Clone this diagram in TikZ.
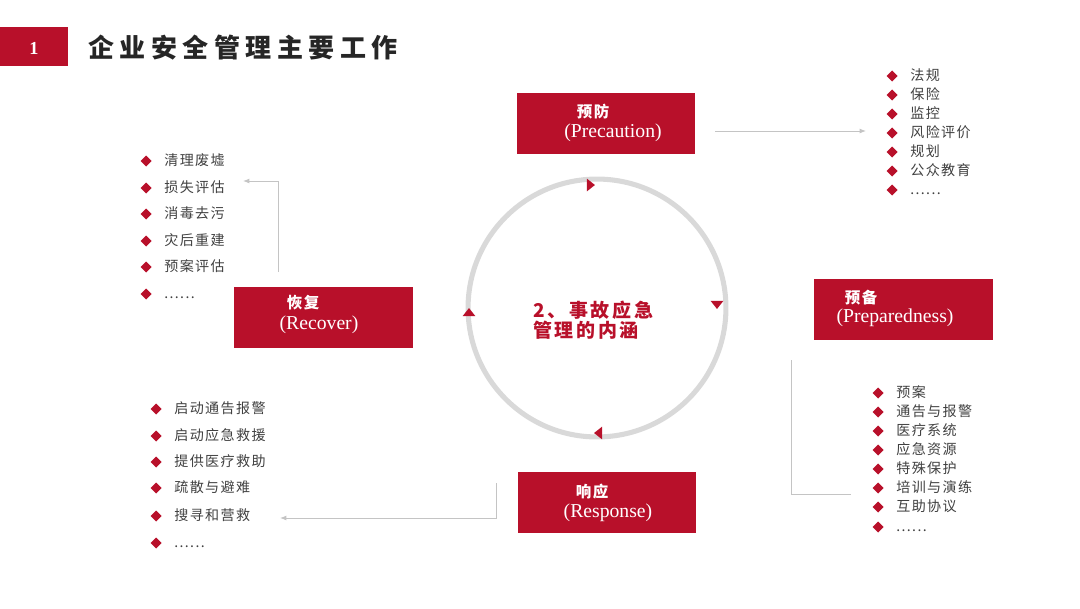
\documentclass[tikz,border=0pt]{standalone}
\usepackage{fontspec}
\setmainfont{Liberation Serif}
\newfontfamily\cjk[LetterSpace=10]{Noto Sans CJK SC}
\newfontfamily\cjkcore[LetterSpace=14]{Noto Sans CJK SC}
\newfontfamily\cjkhead[LetterSpace=21]{Noto Sans CJK SC}
\usetikzlibrary{shapes.geometric, arrows.meta}

\definecolor{brickred}{HTML}{B8102A}
\definecolor{textgray}{HTML}{404040}
\definecolor{ringgray}{HTML}{D9D9D9}
\definecolor{linegray}{HTML}{C4C4C4}

\tikzset{
  stagebox/.style={rectangle, fill=brickred, minimum width=126.6pt, minimum height=43.4pt, inner sep=0pt},
  stagecn/.style={text=white, font=\cjk\bfseries\fontsize{11}{13}\selectfont, inner sep=0pt},
  stageen/.style={text=white, font=\fontsize{14}{16}\selectfont, inner sep=0pt},
  bulletmark/.style={diamond, fill=brickred, inner sep=0pt, minimum size=8pt, xshift=-8.5pt},
  listitem/.style={anchor=west, inner sep=0pt, text=textgray, text height=8.5pt, text depth=1.5pt,
    font=\cjk\fontsize{10}{12}\selectfont, label={[bulletmark]left:{}}},
  turn/.style={isosceles triangle, isosceles triangle stretches, fill=brickred, inner sep=0pt,
    minimum width=9pt, minimum height=5.7pt},
  link/.style={draw=linegray, line width=0.7pt},
  tip/.style={-{Latex[length=4.5pt, width=3.5pt]}}
}

\begin{document}
\begin{tikzpicture}[x=0.025cm, y=-0.025cm]
\useasboundingbox (0,0) rectangle (1080,608);

% Heading
\node[rectangle, fill=brickred, minimum width=48.4pt, minimum height=27.7pt, inner sep=0pt] (num) at (34,46.5) {};
\node[text=white, font=\bfseries\fontsize{13}{15}\selectfont] (numtext) at (34,48) {1};
\node[anchor=west, inner sep=0pt, text=black!85, font=\cjkhead\bfseries\fontsize{18.5}{22}\selectfont] (title) at (88,48) {企业安全管理主要工作};

% Cycle
\node[circle, draw=ringgray, line width=3.6pt, minimum size=183.4pt, inner sep=0pt] (ring) at (597,308) {};
\node[turn] (t1) at (590,185) {};
\node[turn, rotate=-90] (t2) at (717,304) {};
\node[turn, rotate=180] (t3) at (599,433) {};
\node[turn, rotate=90] (t4) at (469,313) {};

\node[anchor=west, inner sep=0pt, text=brickred, font=\cjkcore\bfseries\fontsize{13.5}{16}\selectfont] (core1) at (533,310) {2、事故应急};
\node[anchor=west, inner sep=0pt, text=brickred, font=\cjkcore\bfseries\fontsize{13.5}{16}\selectfont] (core2) at (533,330) {管理的内涵};

% Stages
\node[stagebox] (pre) at (606,123.5) {};
\node[stagecn] (precn) at (593,112) {预防};
\node[stageen] (preen) at (613,133) {(Precaution)};

\node[stagebox] (prep) at (903.5,309.5) {};
\node[stagecn] (prepcn) at (861,298) {预备};
\node[stageen] (prepen) at (895,318) {(Preparedness)};

\node[stagebox] (resp) at (607,502.5) {};
\node[stagecn] (respcn) at (592,492) {响应};
\node[stageen] (respen) at (608,513) {(Response)};

\node[stagebox] (rec) at (323.5,317.5) {};
\node[stagecn] (reccn) at (303,303) {恢复};
\node[stageen] (recen) at (319,325) {(Recover)};

% Lists
\node[listitem] (pa1) at (910,76) {法规};
\node[listitem] (pa2) at (910,95) {保险};
\node[listitem] (pa3) at (910,114) {监控};
\node[listitem] (pa4) at (910,133) {风险评价};
\node[listitem] (pa5) at (910,152) {规划};
\node[listitem] (pa6) at (910,171) {公众教育};
\node[listitem] (pa7) at (910,190) {......};

\node[listitem] (pb1) at (896,393) {预案};
\node[listitem] (pb2) at (896,412) {通告与报警};
\node[listitem] (pb3) at (896,431) {医疗系统};
\node[listitem] (pb4) at (896,450) {应急资源};
\node[listitem] (pb5) at (896,469) {特殊保护};
\node[listitem] (pb6) at (896,488) {培训与演练};
\node[listitem] (pb7) at (896,507) {互助协议};
\node[listitem] (pb8) at (896,527) {......};

\node[listitem] (rs1) at (174,409) {启动通告报警};
\node[listitem] (rs2) at (174,436) {启动应急救援};
\node[listitem] (rs3) at (174,462) {提供医疗救助};
\node[listitem] (rs4) at (174,488) {疏散与避难};
\node[listitem] (rs5) at (174,516) {搜寻和营救};
\node[listitem] (rs6) at (174,543) {......};

\node[listitem] (rc1) at (164,161) {清理废墟};
\node[listitem] (rc2) at (164,188) {损失评估};
\node[listitem] (rc3) at (164,214) {消毒去污};
\node[listitem] (rc4) at (164,241) {灾后重建};
\node[listitem] (rc5) at (164,267) {预案评估};
\node[listitem] (rc6) at (164,294) {......};

% Edges
\coordinate (preA) at (715,131);
\coordinate (preB) at (866,131);
\draw[link, tip] (preA) -- (preB);

\coordinate (prepA) at (791,360);
\coordinate (prepB) at (851,494);
\draw[link] (prepA) |- (prepB);

\coordinate (respA) at (496,483);
\coordinate (respB) at (280,518);
\draw[link, tip] (respA) |- (respB);

\coordinate (recA) at (278,272);
\coordinate (recB) at (243,181);
\draw[link, tip] (recA) |- (recB);

\end{tikzpicture}
\end{document}
